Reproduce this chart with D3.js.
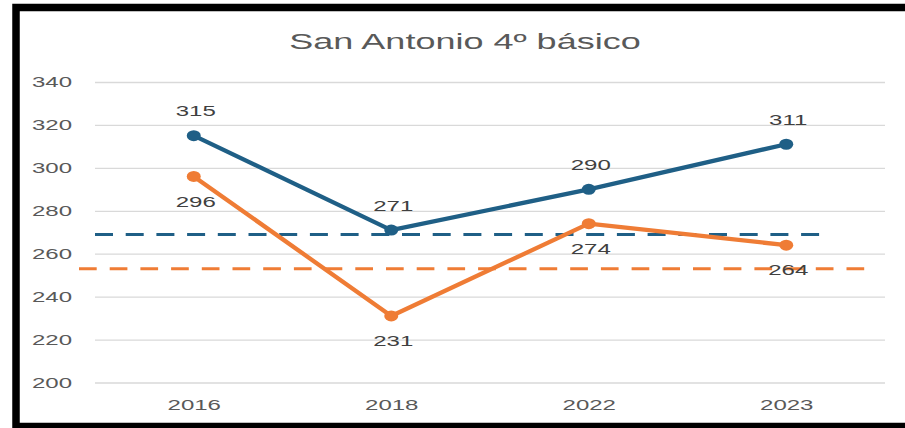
<!DOCTYPE html>
<html>
<head>
<meta charset="utf-8">
<script src="https://cdn.jsdelivr.net/npm/d3@7"></script>
<style>
  body { margin: 0; background: #fff; overflow: hidden; }
  svg { display: block; }
  text { font-family: "Liberation Sans", Arial, sans-serif; }
</style>
</head>
<body>
<svg id="chart" width="905" height="428"></svg>
<script>
// data
var years = ["2016", "2018", "2022", "2023"];
var blueValues = [315, 271, 290, 311];
var orangeValues = [296, 231, 274, 264];
var blueAverage = 269;
var orangeAverage = 253;
var yTicks = [200, 220, 240, 260, 280, 300, 320, 340];

var blue = "#1f5f86", orange = "#ef7c35";
var svg = d3.select("#chart");

// frame: left, top and bottom edges only
svg.append("rect").attr("width", 905).attr("height", 428).attr("fill", "#fff");
svg.append("path")
    .attr("d", "M905,7.5H16V426.5H905")
    .attr("fill", "none").attr("stroke", "#000").attr("stroke-width", 7.5);

var plotLeft = 95, plotRight = 885, plotTop = 82, plotBottom = 382.5;

var x = d3.scalePoint().domain(years).range([plotLeft, plotRight]).padding(0.5);
var y = d3.scaleLinear().domain([200, 340]).range([plotBottom, plotTop]);

// stretch text sideways like the reference
function stretch(sel, k) {
  sel.each(function() {
    var w = this.getComputedTextLength();
    d3.select(this).attr("textLength", w * k).attr("lengthAdjust", "spacingAndGlyphs");
  });
}

// y grid + labels
var yAxis = svg.append("g")
    .attr("transform", "translate(" + plotLeft + ",0)")
    .call(d3.axisLeft(y).tickValues(yTicks).tickSize(-(plotRight - plotLeft)).tickPadding(23));
yAxis.select(".domain").remove();
yAxis.selectAll("line").attr("stroke", "#d9d9d9").attr("stroke-width", 1.3);
yAxis.selectAll("text").attr("fill", "#595959").attr("font-size", "15.5px")
    .attr("font-family", "Liberation Sans, Arial, sans-serif");
stretch(yAxis.selectAll("text"), 1.55);

// x labels
var xAxis = svg.append("g")
    .attr("transform", "translate(0," + plotBottom + ")")
    .call(d3.axisBottom(x).tickSize(0).tickPadding(16));
xAxis.select(".domain").remove();
xAxis.selectAll("text").attr("fill", "#595959").attr("font-size", "15.5px")
    .attr("font-family", "Liberation Sans, Arial, sans-serif");
stretch(xAxis.selectAll("text"), 1.55);

// average dashed lines
svg.append("line")
    .attr("x1", plotLeft).attr("x2", x("2023") + 34)
    .attr("y1", y(blueAverage)).attr("y2", y(blueAverage))
    .attr("stroke", blue).attr("stroke-width", 3).attr("stroke-dasharray", "18 12.7");
svg.append("line")
    .attr("x1", plotLeft - 16).attr("x2", plotRight - 18)
    .attr("y1", y(orangeAverage)).attr("y2", y(orangeAverage))
    .attr("stroke", orange).attr("stroke-width", 3).attr("stroke-dasharray", "17.7 13");

var line = d3.line().x(function(d, i) { return x(years[i]); }).y(function(d) { return y(d); });

function series(values, color, labelOffset) {
  svg.append("path").datum(values)
      .attr("d", line).attr("fill", "none")
      .attr("stroke", color).attr("stroke-width", 4.3).attr("stroke-linejoin", "round");
  svg.selectAll(null).data(values).enter().append("ellipse")
      .attr("cx", function(d, i) { return x(years[i]); })
      .attr("cy", function(d) { return y(d); })
      .attr("rx", 7).attr("ry", 5.5).attr("fill", color);
  var labels = svg.selectAll(null).data(values).enter().append("text")
      .attr("x", function(d, i) { return x(years[i]) + 2; })
      .attr("y", function(d) { return y(d) + labelOffset; })
      .attr("dy", "0.36em")
      .attr("text-anchor", "middle")
      .attr("font-size", "15.5px").attr("fill", "#404040")
      .text(function(d) { return d; });
  stretch(labels, 1.55);
}
series(blueValues, blue, -25);
series(orangeValues, orange, 24.5);

// title
var title = svg.append("text")
    .attr("x", 465).attr("y", 49)
    .attr("text-anchor", "middle")
    .attr("font-size", "22.5px").attr("fill", "#595959")
    .text("San Antonio 4º básico");
stretch(title, 1.6);
</script>
</body>
</html>
